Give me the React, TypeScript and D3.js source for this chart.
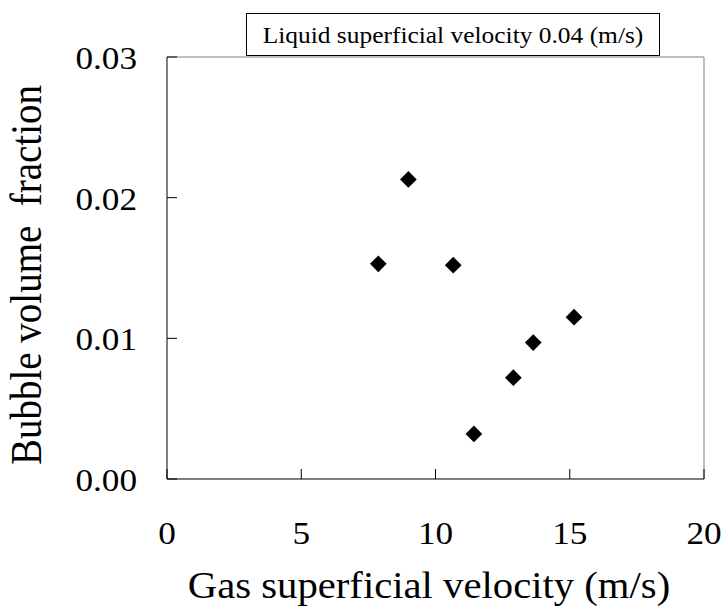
import React from "react";
import * as d3 from "d3";

const gasVelocity = [7.87, 8.99, 10.66, 11.43, 12.9, 13.64, 15.16];
const bubbleFraction = [0.0153, 0.0213, 0.0152, 0.0032, 0.0072, 0.0097, 0.0115];
const xTicks = [0, 5, 10, 15, 20];
const yTicks = [0, 0.01, 0.02, 0.03];
const title = "Liquid superficial velocity 0.04 (m/s)";
const xLabel = "Gas superficial velocity (m/s)";
const yLabel = "Bubble volume  fraction";

const W = 721, H = 616;
const L = 167, R = 704, T = 57, B = 479;
const SX = 1.1;
const FONT = "'Liberation Serif', 'Times New Roman', serif";

export default function App() {
  const x = d3.scaleLinear().domain([0, 20]).range([L, R]);
  const y = d3.scaleLinear().domain([0, 0.03]).range([B, T]);
  const diamond = d3.symbol().type(d3.symbolSquare).size(140)();
  return (
    <svg width={W} height={H} style={{ position: "absolute", left: 0, top: 0, background: "#fff" }}>
      <rect x={0} y={0} width={W} height={H} fill="#fff" />
      <line x1={L} y1={T} x2={R} y2={T} stroke="#808080" strokeWidth={1} />
      <line x1={R} y1={T} x2={R} y2={B} stroke="#808080" strokeWidth={1} />
      <line x1={L} y1={T} x2={L} y2={B} stroke="#000" strokeWidth={1} />
      <line x1={L} y1={B} x2={R} y2={B} stroke="#000" strokeWidth={1} />
      {xTicks.map((t) => (
        <g key={"xt" + t}>
          <line x1={x(t)} y1={B} x2={x(t)} y2={B - 10} stroke="#000" />
          <text
            transform={`translate(${x(t)},${544}) scale(${SX},1)`}
            textAnchor="middle"
            fontFamily={FONT}
            fontSize={32}
            fill="#000"
          >
            {t}
          </text>
        </g>
      ))}
      {yTicks.map((t) => (
        <g key={"yt" + t}>
          <line x1={L} y1={y(t)} x2={L + 10} y2={y(t)} stroke="#000" />
          <text
            transform={`translate(${137},${y(t) + 12}) scale(${SX},1)`}
            textAnchor="end"
            fontFamily={FONT}
            fontSize={32}
            fill="#000"
          >
            {d3.format(".2f")(t)}
          </text>
        </g>
      ))}
      {gasVelocity.map((v, i) => (
        <path
          key={"p" + i}
          d={diamond}
          transform={`translate(${x(v)},${y(bubbleFraction[i])}) rotate(45)`}
          fill="#000"
        />
      ))}
      <rect x={246.5} y={13.5} width={413} height={42} fill="#fff" stroke="#000" strokeWidth={1} />
      <text
        transform={`translate(${453},${43}) scale(1.06,1)`}
        textAnchor="middle"
        fontFamily={FONT}
        fontSize={24}
        fill="#000"
      >
        {title}
      </text>
      <text
        transform={`translate(${429},${598}) scale(${SX},1)`}
        textAnchor="middle"
        fontFamily={FONT}
        fontSize={37}
        fill="#000"
      >
        {xLabel}
      </text>
      <text
        transform={`translate(${41},${275}) scale(1.15,1) rotate(-90)`}
        textAnchor="middle"
        fontFamily={FONT}
        fontSize={39}
        fill="#000"
        xmlSpace="preserve"
      >
        {yLabel}
      </text>
    </svg>
  );
}
